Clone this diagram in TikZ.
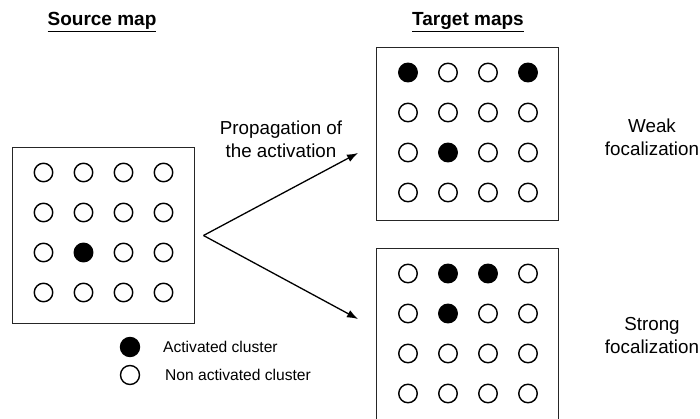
\documentclass[tikz,border=0pt]{standalone}
\usepackage{fontspec}
\setmainfont{Liberation Sans}
\usetikzlibrary{arrows.meta, positioning}

\tikzset{
  map/.style={draw=black!85, line width=1pt, minimum width=182pt, inner sep=0pt},
  cell/.style={circle, draw, line width=1.4pt, minimum size=18.5pt, inner sep=0pt},
  lit/.style={fill=black},
  heading/.style={font=\fontsize{19}{22}\selectfont\bfseries},
  caption/.style={font=\fontsize{18.8}{23}\selectfont, align=center},
  key/.style={font=\fontsize{15.6}{18}\selectfont, anchor=west, inner sep=0pt},
  spread/.style={-{Latex[length=11pt,width=8pt]}, line width=1.3pt},
  % activated clusters
  source-3-2/.style=lit,
  weak-1-1/.style=lit, weak-1-4/.style=lit, weak-3-2/.style=lit,
  strong-1-2/.style=lit, strong-1-3/.style=lit, strong-2-2/.style=lit
}

\begin{document}
\begin{tikzpicture}[x=1pt, y=-1pt]
  \clip (0,0) rectangle (700,419);

  % maps
  \node[map, minimum height=175pt] (source) at (103,235.5) {};
  \node[map, minimum height=173pt] (weak) at (467.5,134.5) {};
  \node[map, minimum height=174pt] (strong) at (467.5,336) {};

  \foreach \m in {source,weak,strong}
    \foreach \r in {1,...,4}
      \foreach \c in {1,...,4}
        \node[cell, \m-\r-\c/.try] (\m-\r-\c)
          at ([xshift={(\c-1)*40+32}, yshift={-(\r-1)*40-25}]\m.north west) {};

  % titles
  \node[heading] (srctitle) at (102,22) {\underline{Source map}};
  \node[heading] (tgttitle) at (468,22) {\underline{Target maps}};

  % propagation
  \coordinate (fork) at ([xshift=9pt]source.east);
  \coordinate (tipweak) at (358,153);
  \coordinate (tipstrong) at (358,319);
  \draw[spread] (fork) -- (tipweak);
  \draw[spread] (fork) -- (tipstrong);
  \node[caption] (prop) at (281,139) {Propagation of\\the activation};

  \node[caption] (weaklbl) at (652,137) {Weak\\focalization};
  \node[caption] (stronglbl) at (652,336) {Strong\\focalization};

  % legend
  \node[cell, lit, minimum size=19pt] (keyon) at (130,347) {};
  \node[cell, minimum size=19pt] (keyoff) at (130,375) {};
  \node[key] (keyontxt) at (163,347) {Activated cluster};
  \node[key] (keyofftxt) at (165,375) {Non activated cluster};
\end{tikzpicture}
\end{document}
